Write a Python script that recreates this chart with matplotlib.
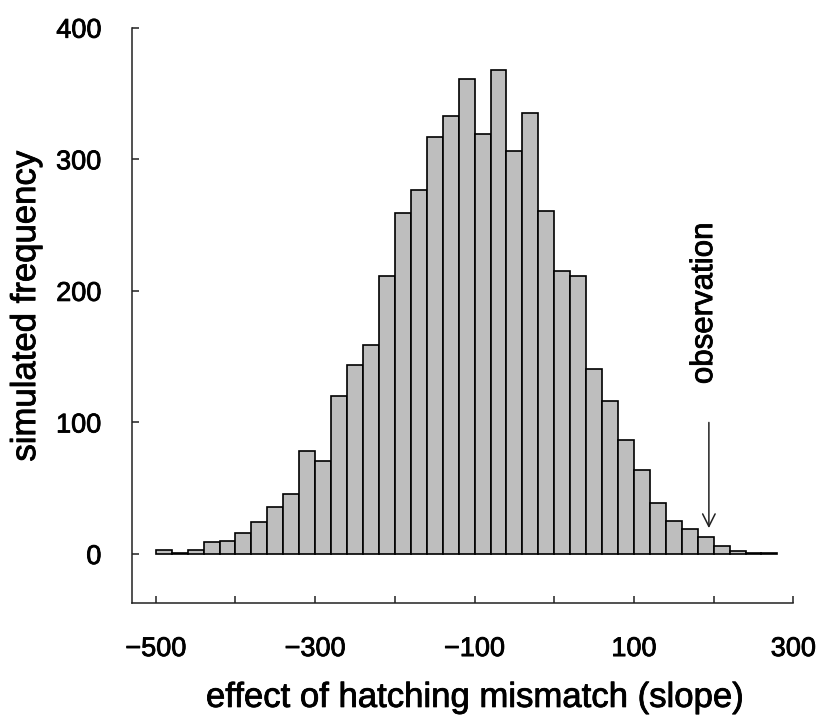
import matplotlib
matplotlib.use("Agg")
import matplotlib.pyplot as plt
import matplotlib.patheffects as pe

plt.rcParams['font.family'] = ['Liberation Sans', 'DejaVu Sans']

bin_starts = list(range(-500, 280, 20))
bin_width = 20
counts = [3, 1, 3, 9, 10, 16, 24, 36, 46, 78, 71, 120, 144, 159, 211, 259, 277,
          317, 333, 361, 319, 368, 306, 335, 261, 215, 211, 141, 116, 87, 64, 39,
          25, 19, 13, 6, 2, 1, 1]
x_ticks = list(range(-500, 301, 100))
x_tick_labels = ['−500', '', '−300', '', '−100', '', '100', '', '300']
y_ticks = [0, 100, 200, 300, 400]
observation_x = 194

thick = [pe.withStroke(linewidth=0.6, foreground='black')]

fig = plt.figure(figsize=(8.19, 7.22), dpi=100)
ax = fig.add_axes([0.161, 0.1652, 0.8077, 0.7964])

ax.bar(bin_starts, counts, width=bin_width, align='edge',
       facecolor='#bebebe', edgecolor='black', linewidth=1.2)

ax.set_xlim(-530, 300)
ax.set_ylim(-37, 400)
ax.set_xticks(x_ticks)
ax.set_xticklabels(x_tick_labels)
ax.set_yticks(y_ticks)
ax.tick_params(direction='in', length=5, width=1.1, labelsize=19.5,
               colors='#222222', labelcolor='black')
ax.tick_params(axis='x', pad=24)
ax.tick_params(axis='y', pad=22)
for lbl in ax.get_xticklabels() + ax.get_yticklabels():
    lbl.set_path_effects(thick)
for s in ['top', 'right']:
    ax.spines[s].set_visible(False)
for s in ['left', 'bottom']:
    ax.spines[s].set_linewidth(1.1)
    ax.spines[s].set_color('#222222')

ax.set_xlabel('effect of hatching mismatch (slope)', fontsize=25,
              path_effects=thick)
ax.set_ylabel('simulated frequency', fontsize=25, path_effects=thick)
ax.xaxis.set_label_coords(0.519, -0.136)
ax.yaxis.set_label_coords(-0.1357, 0.516)

ax.annotate('', xy=(observation_x, 19.7), xytext=(observation_x, 100),
            arrowprops=dict(arrowstyle='->,head_length=0.9,head_width=0.45',
                            lw=1.1, color='#222222', shrinkA=0, shrinkB=0))
ax.text(observation_x - 6, 190.6, 'observation', rotation=90, ha='center',
        va='center', fontsize=22.5, path_effects=thick)

fig.savefig('out.png', dpi=100)
